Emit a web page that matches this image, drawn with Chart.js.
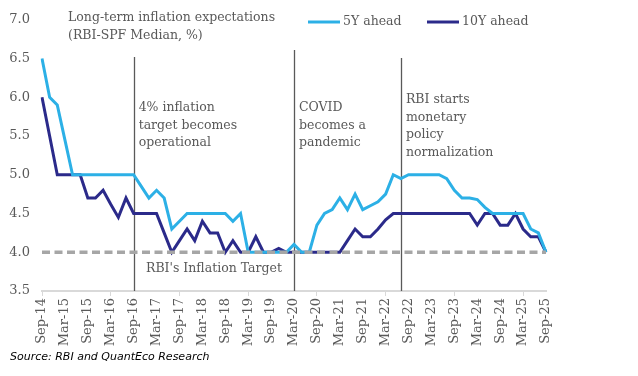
<!DOCTYPE html>
<html>
<head>
<meta charset="utf-8">
<script src="https://cdn.jsdelivr.net/npm/chart.js@4.4.1/dist/chart.umd.min.js"></script>
<style>
  html, body { margin: 0; padding: 0; background: #fff; }
  #wrap { width: 638px; height: 376px; position: relative; }
</style>
</head>
<body>
<div id="wrap"><canvas id="inflChart"></canvas></div>
<script>
// bimonthly RBI SPF rounds, Sep-14 .. Sep-25
const labels = [
    'Sep-14', 'Nov-14', 'Jan-15', 'Mar-15', 'May-15', 'Jul-15',
    'Sep-15', 'Nov-15', 'Jan-16', 'Mar-16', 'May-16', 'Jul-16',
    'Sep-16', 'Nov-16', 'Jan-17', 'Mar-17', 'May-17', 'Jul-17',
    'Sep-17', 'Nov-17', 'Jan-18', 'Mar-18', 'May-18', 'Jul-18',
    'Sep-18', 'Nov-18', 'Jan-19', 'Mar-19', 'May-19', 'Jul-19',
    'Sep-19', 'Nov-19', 'Jan-20', 'Mar-20', 'May-20', 'Jul-20',
    'Sep-20', 'Nov-20', 'Jan-21', 'Mar-21', 'May-21', 'Jul-21',
    'Sep-21', 'Nov-21', 'Jan-22', 'Mar-22', 'May-22', 'Jul-22',
    'Sep-22', 'Nov-22', 'Jan-23', 'Mar-23', 'May-23', 'Jul-23',
    'Sep-23', 'Nov-23', 'Jan-24', 'Mar-24', 'May-24', 'Jul-24',
    'Sep-24', 'Nov-24', 'Jan-25', 'Mar-25', 'May-25', 'Jul-25',
    'Sep-25'
];

const fiveYear = [
    6.5, 6.0, 5.9, 5.45, 5.0, 5.0,
    5.0, 5.0, 5.0, 5.0, 5.0, 5.0,
    5.0, 4.85, 4.7, 4.8, 4.7, 4.3,
    4.4, 4.5, 4.5, 4.5, 4.5, 4.5,
    4.5, 4.4, 4.5, 4.0, 4.0, 4.0,
    4.0, 4.0, 4.0, 4.1, 4.0, 4.0,
    4.35, 4.5, 4.55, 4.7, 4.55, 4.75,
    4.55, 4.6, 4.65, 4.75, 5.0, 4.95,
    5.0, 5.0, 5.0, 5.0, 5.0, 4.95,
    4.8, 4.7, 4.7, 4.68, 4.58, 4.5,
    4.5, 4.5, 4.5, 4.5, 4.3, 4.25,
    4.0
];

const tenYear = [
    6.0, 5.5, 5.0, 5.0, 5.0, 5.0,
    4.7, 4.7, 4.8, 4.62, 4.45, 4.7,
    4.5, 4.5, 4.5, 4.5, 4.25, 4.0,
    4.15, 4.3, 4.15, 4.4, 4.25, 4.25,
    4.0, 4.15, 4.0, 4.0, 4.2, 4.0,
    4.0, 4.05, 4.0, 4.0, 4.0, 4.0,
    4.0, 4.0, 4.0, 4.0, 4.15, 4.3,
    4.2, 4.2, 4.3, 4.42, 4.5, 4.5,
    4.5, 4.5, 4.5, 4.5, 4.5, 4.5,
    4.5, 4.5, 4.5, 4.35, 4.5, 4.5,
    4.35, 4.35, 4.5, 4.3, 4.2, 4.2,
    4.0
];

const yTicks = [3.5, 4.0, 4.5, 5.0, 5.5, 6.0, 6.5, 7.0];
const targetRate = 4.0;

// event markers: category, text lines, top of the marker line
const events = [
    { at: 'Sep-16', text: ['4% inflation', 'target becomes', 'operational'], top: 57, textY: 108 },
    { at: 'Mar-20', text: ['COVID', 'becomes a', 'pandemic'], top: 50, textY: 108 },
    { at: 'Jul-22', text: ['RBI starts', 'monetary', 'policy', 'normalization'], top: 58, textY: 100 }
];

const lightBlue = '#2cb0e6';
const navy = '#2b2a8a';
const textGrey = '#595959';
const serif = '"DejaVu Serif", serif';

const overlay = {
    id: 'overlay',
    beforeDatasetsDraw(chart) {
        const { ctx, scales: { x }, chartArea } = chart;
        ctx.save();
        ctx.strokeStyle = '#595959';
        ctx.lineWidth = 1.3;
        events.forEach(ev => {
            const px = Math.round(x.getPixelForValue(labels.indexOf(ev.at))) + 0.5;
            ctx.beginPath();
            ctx.moveTo(px, ev.top);
            ctx.lineTo(px, chartArea.bottom);
            ctx.stroke();
        });
        ctx.restore();
    },
    afterDatasetsDraw(chart) {
        const { ctx, scales: { x, y } } = chart;
        ctx.save();
        // 4% target, dashed
        const ty = y.getPixelForValue(targetRate);
        ctx.strokeStyle = '#a6a6a6';
        ctx.lineWidth = 3.5;
        ctx.setLineDash([8, 4.5]);
        ctx.beginPath();
        ctx.moveTo(x.getPixelForValue(0), ty);
        ctx.lineTo(x.getPixelForValue(labels.length - 1), ty);
        ctx.stroke();
        ctx.setLineDash([]);

        ctx.fillStyle = textGrey;
        ctx.textBaseline = 'middle';
        ctx.textAlign = 'left';
        ctx.font = '12.5px ' + serif;
        events.forEach(ev => {
            const px = x.getPixelForValue(labels.indexOf(ev.at)) + 5;
            ev.text.forEach((t, k) => ctx.fillText(t, px, ev.textY + k * 17.5));
        });
        ctx.fillText("RBI's Inflation Target", 146, ty + 16);
        ctx.restore();
    },
    afterDraw(chart) {
        const ctx = chart.ctx;
        ctx.save();
        ctx.fillStyle = textGrey;
        ctx.textBaseline = 'middle';
        ctx.textAlign = 'left';
        ctx.font = '12.5px ' + serif;
        ctx.fillText('Long-term inflation expectations', 68, 18);
        ctx.fillText('(RBI-SPF Median, %)', 68, 36);

        // legend
        ctx.lineWidth = 3;
        [[lightBlue, '5Y ahead', 308], [navy, '10Y ahead', 427]].forEach(([c, t, lx]) => {
            ctx.strokeStyle = c;
            ctx.beginPath();
            ctx.moveTo(lx, 22);
            ctx.lineTo(lx + 32, 22);
            ctx.stroke();
            ctx.fillText(t, lx + 35, 22);
        });

        ctx.fillStyle = '#000';
        ctx.font = 'italic 11px "DejaVu Sans", sans-serif';
        ctx.fillText('Source: RBI and QuantEco Research', 10, 357);
        ctx.restore();
    }
};

const ctx = document.getElementById('inflChart').getContext('2d');
new Chart(ctx, {
    type: 'line',
    data: {
        labels: labels,
        datasets: [
            {
                label: '5Y ahead',
                data: fiveYear,
                borderColor: lightBlue,
                borderWidth: 3,
                pointRadius: 0,
                tension: 0
            },
            {
                label: '10Y ahead',
                data: tenYear,
                borderColor: navy,
                borderWidth: 3,
                pointRadius: 0,
                tension: 0
            }
        ]
    },
    options: {
        responsive: true,
        maintainAspectRatio: false,
        animation: false,
        layout: { padding: { left: 0, right: 92, top: 19, bottom: 0 } },
        plugins: {
            legend: { display: false },
            tooltip: { enabled: false }
        },
        scales: {
            x: {
                offset: false,
                afterFit: scale => { scale.height = 85; },
                border: { display: true, color: '#d9d9d9', width: 2 },
                grid: {
                    drawOnChartArea: false,
                    drawTicks: true,
                    tickLength: 5,
                    color: c => (c.index % 3 === 0 ? '#d9d9d9' : 'rgba(0,0,0,0)')
                },
                ticks: {
                    autoSkip: false,
                    minRotation: 90,
                    maxRotation: 90,
                    padding: 2,
                    color: textGrey,
                    font: { family: serif, size: 13 },
                    callback: function (v, i) { return i % 3 === 0 ? labels[i] : null; }
                }
            },
            y: {
                min: yTicks[0],
                max: yTicks[yTicks.length - 1],
                afterFit: scale => { scale.width = 42; },
                afterBuildTicks: scale => { scale.ticks = yTicks.map(v => ({ value: v })); },
                border: { display: false },
                grid: { display: false, drawTicks: false },
                ticks: {
                    padding: 12,
                    color: textGrey,
                    font: { family: serif, size: 13 },
                    callback: v => v.toFixed(1)
                }
            }
        }
    },
    plugins: [overlay]
});
</script>
</body>
</html>
